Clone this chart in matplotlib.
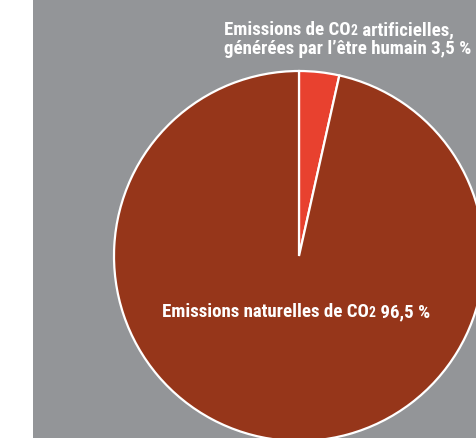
import matplotlib
matplotlib.use("Agg")
import matplotlib.pyplot as plt
from matplotlib.patches import Rectangle
from matplotlib import font_manager

labels = ["Emissions de CO2 artificielles, générées par l'être humain", "Emissions naturelles de CO2"]
values = [3.5, 96.5]
colors = ["#E8412F", "#96361A"]

W, H = 476, 438
fig = plt.figure(figsize=(W/100, H/100), dpi=100)
fig.patch.set_facecolor("white")
ax = fig.add_axes([0, 0, 1, 1])

names = {f.name for f in font_manager.fontManager.ttflist}
FAM = "DejaVu Sans"
for cand in ["Roboto Condensed", "Fira Sans Condensed", "PT Sans Narrow", "Asap Condensed",
             "Barlow Semi Condensed", "Archivo Narrow", "Barlow Condensed"]:
    if cand in names:
        FAM = cand
        break

ax.add_patch(Rectangle((33, 0), W - 33, H, facecolor="#939598", edgecolor="none", zorder=0))
wedges, _ = ax.pie(values, colors=colors, startangle=90, counterclock=False,
                   center=(299, H - 256), radius=185,
                   wedgeprops=dict(edgecolor="white", linewidth=1.6))
for w in wedges:
    w.set_zorder(1)
ax.set_xlim(0, W)
ax.set_ylim(0, H)
ax.set_aspect("auto")
ax.axis("off")

renderer = fig.canvas.get_renderer()

def seg_text(x, y_base, segs, size, draw=True):
    cx = x
    arts = []
    for s, rel in segs:
        t = ax.text(cx, H - y_base, s, fontsize=size * rel, fontfamily=FAM, fontweight="bold",
                    color="white", ha="left", va="baseline", zorder=3)
        bb = t.get_window_extent(renderer=renderer)
        cx += bb.width
        arts.append(t)
    if not draw:
        for t in arts:
            t.remove()
    return cx - x

seg3 = [("Emissions naturelles de CO", 1), ("2", 0.72), (" 96,5 %", 1)]
w0 = seg_text(0, 0, seg3, 12, draw=False)
SIZE = 12 * 268 / w0

seg_text(224, 35, [("Emissions de CO", 1), ("2", 0.72), (" artificielles,", 1)], SIZE)
seg_text(224, 53.5, [("générées par l’être humain 3,5 %", 1)], SIZE)
seg_text(162, 317, seg3, SIZE)

fig.savefig("out.png", dpi=100, facecolor=fig.get_facecolor())
